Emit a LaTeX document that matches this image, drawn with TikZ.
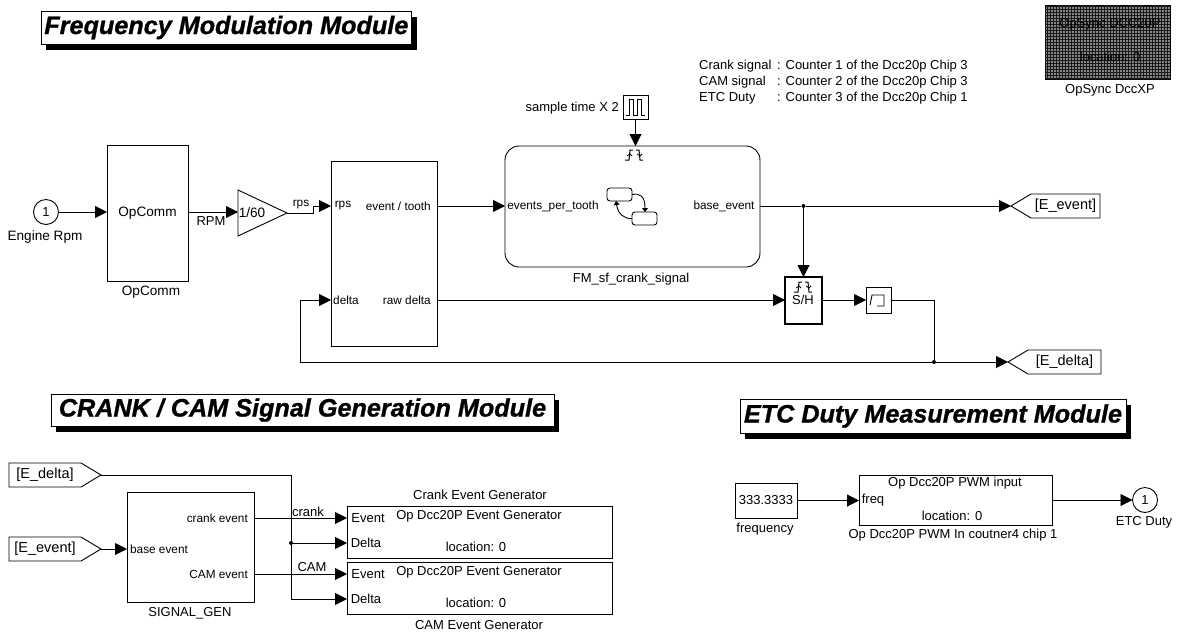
\documentclass[tikz,border=0pt]{standalone}
\usepackage{fontspec}
\setmainfont{Liberation Sans}[BoldItalicFeatures={FakeBold=1}]
\usetikzlibrary{arrows.meta, shapes, shadows, patterns}

\tikzset{
  txt/.style={inner sep=0pt, font=\fontsize{13}{15}\selectfont},
  txs/.style={inner sep=0pt, font=\fontsize{11.8}{14}\selectfont},
  txl/.style={inner sep=0pt, font=\fontsize{13.6}{15}\selectfont},
  box/.style={rectangle, draw, line width=0.9pt, txt, outer sep=0pt, anchor=north west},
  port/.style={circle, draw, line width=0.9pt, txt, minimum size=25pt, outer sep=0pt},
  tag/.style={signal, signal pointer angle=62, draw, line width=0.9pt, inner sep=0pt, outer sep=0pt,
    font=\fontsize{14.5}{16}\selectfont, minimum height=24pt},
  title/.style={rectangle, draw, line width=0.7pt, fill=white, outer sep=0pt, anchor=north west,
    font=\fontsize{25.2}{28}\selectfont\bfseries\itshape,
    drop shadow={shadow xshift=5pt, shadow yshift=-6pt, opacity=1, fill=black}},
  sig/.style={line width=0.9pt, -{Triangle[length=12pt,width=12pt]}},
  wire/.style={line width=0.9pt},
  dot/.style={circle, fill, inner sep=0pt, minimum size=4pt}
}
\newcommand{\trigsym}[2]{%
  \draw[line width=1pt] (#1-9,#2+5) -- (#1-5,#2+5) -- (#1-4,#2-5) -- (#1-1,#2-5);
  \draw[line width=1pt] (#1+2,#2-5) -- (#1+5,#2-5) -- (#1+6,#2+5) -- (#1+9,#2+5);
  \draw[line width=0.8pt] (#1-7,#2+1) -- (#1-4,#2-1) -- (#1-2,#2+1);
  \draw[line width=0.8pt] (#1+3,#2-1) -- (#1+6,#2+1) -- (#1+8,#2-1);
}

\begin{document}
\begin{tikzpicture}[x=1pt, y=-1pt]
\useasboundingbox (0,0) rectangle (1177,633);

% titles
\node[title, minimum width=370pt, minimum height=33pt] (TI1) at (41,11) {Frequency Modulation Module};
\node[title, minimum width=503pt, minimum height=32pt] (TI2) at (51,394) {CRANK / CAM Signal Generation Module};
\node[title, minimum width=386pt, minimum height=34pt] (TI3) at (740,399) {ETC Duty Measurement Module};

% notes
\node[txt, anchor=west] (N1) at (699,66) {Crank signal};
\node[txt, anchor=west] (N2) at (699,82) {CAM signal};
\node[txt, anchor=west] (N3) at (699,98) {ETC Duty};
\node[txt, anchor=west] (N4) at (777,66) {: Counter 1 of the Dcc20p Chip 3};
\node[txt, anchor=west] (N5) at (777,82) {: Counter 2 of the Dcc20p Chip 3};
\node[txt, anchor=west] (N6) at (777,98) {: Counter 3 of the Dcc20p Chip 1};

% sync block
\node[box, minimum width=125pt, minimum height=74pt, fill=black!48, postaction={pattern=grid, pattern color=black!90}] (SY1) at (1045,5) {};
\node[txt] (SY2) at (1110,24) {OpSync DCC20P};
\node[txt] (SY3) at (1110,57) {location: 0};
\node[txt] (SY4) at (1110,90) {OpSync DccXP};

% frequency modulation row
\node[port] (IN1) at (46,212) {1};
\node[txl] (IN2) at (45,237) {Engine Rpm};
\node[box, txl, minimum width=81pt, minimum height=136pt] (OP1) at (107,145) {OpComm};
\node[txl] (OP2) at (151,292) {OpComm};
\node[txt] (RP1) at (211,221) {RPM};
\node[isosceles triangle, isosceles triangle stretches, draw, line width=0.9pt, outer sep=0pt, inner sep=0pt, minimum width=46pt, minimum height=49pt, anchor=apex] (GA1) at (287,213) {};
\node[txl] (GA2) at (252,213) {1/60};
\node[txs] (RP2) at (301,205) {rps};
\coordinate (BD1) at (313,213);
\node[box, minimum width=106pt, minimum height=185pt] (BK1) at (331,161) {};
\node[txs] (LB1) at (343,206) {rps};
\node[txs, anchor=east] (LB2) at (431,206) {event / tooth};
\node[txs] (LB3) at (346,300) {delta};
\node[txs, anchor=east] (LB4) at (431,300) {raw delta};

% chart
\node[box, rounded corners=14pt, minimum width=255pt, minimum height=121pt] (CH1) at (505,146) {};
\node[txs] (CH2) at (553,206) {events\_per\_tooth};
\node[txs] (CH3) at (724,206) {base\_event};
\node[txt] (CH4) at (631,279) {FM\_sf\_crank\_signal};
\trigsym{634}{155}
\node[box, rounded corners=3pt, minimum width=25pt, minimum height=13pt] (MS1) at (607,188) {};
\node[box, rounded corners=3pt, minimum width=25pt, minimum height=13pt] (MS2) at (632,212) {};
\draw[line width=0.9pt, -{Triangle[length=4pt,width=6pt]}] (MS1.east) .. controls (640,193) and (645,196) .. (645,212);
\draw[line width=0.9pt, -{Triangle[length=4pt,width=6pt]}] (MS2.west) .. controls (624,219) and (618,214) .. (616,201);

% pulse
\node[box, minimum width=25pt, minimum height=24pt] (PU1) at (623,95) {};
\node[txt, anchor=east] (PU2) at (619,108) {sample time X 2};
\draw[line width=0.9pt] (626,115) -- (629,115) -- (629,99) -- (633,99) -- (633,115) -- (637,115) -- (637,99) -- (641,99) -- (641,115) -- (645,115);

% sample and hold
\node[box, line width=1.8pt, minimum width=37pt, minimum height=47pt] (SH1) at (785,277) {};
\trigsym{803}{287}
\node[txt] (SH2) at (803,300) {S/H};
\node[box, minimum width=25pt, minimum height=26pt] (ME1) at (866,287) {};
\draw[line width=0.9pt] (870,305) -- (872,295) -- (884,295) -- (884,306) -- (877,306);

% goto tags
\node[tag, signal to=west, anchor=west, minimum width=89pt] (TG1) at (1011,206) {[E\_event]\hspace{14pt}};
\node[tag, signal to=west, anchor=west, minimum width=93pt] (TG2) at (1008,362) {[E\_delta]\hspace{14pt}};

\node[dot] (JN1) at (803.5,206) {};
\node[dot] (JN2) at (934,362) {};
\coordinate (BD2) at (300,362);

\draw[sig] (IN1) -- (OP1.west |- IN1);
\draw[sig] (OP1.east |- IN1) -- (GA1.lower side |- IN1);
\draw[sig] (GA1.apex) -- (BD1) |- (BK1.west |- LB1);
\draw[sig] (BK1.east |- LB2) -- (CH1.west |- CH2);
\draw[wire] (CH1.east |- CH3) -- (JN1);
\draw[sig] (JN1) -- (TG1.west);
\draw[sig] (JN1) -- (SH1.north -| JN1);
\draw[sig] (PU1.south) -- (CH1.north -| PU1);
\draw[sig] (BK1.east |- LB4) -- (SH1.west |- SH2);
\draw[sig] (SH1.east |- SH2) -- (ME1.west);
\draw[wire] (ME1.east) -| (JN2);
\draw[sig] (JN2) -- (TG2.west);
\draw[sig] (JN2) -- (BD2) |- (BK1.west |- LB3);

% signal generation
\node[tag, signal to=east, anchor=east, minimum width=92pt] (FR1) at (101,475) {[E\_delta]\hspace{6pt}};
\node[tag, signal to=east, anchor=east, minimum width=92pt] (FR2) at (101,549) {[E\_event]\hspace{6pt}};
\node[box, minimum width=127pt, minimum height=110pt] (SG1) at (127,492) {};
\node[txt] (SG2) at (190,613) {SIGNAL\_GEN};
\node[txs] (SG3) at (159,549) {base event};
\node[txs, anchor=east] (SG4) at (248,518) {crank event};
\node[txs, anchor=east] (SG5) at (248,574) {CAM event};
\node[txt] (CR1) at (308,512) {crank};
\node[txt] (CA1) at (312,567) {CAM};

\node[box, minimum width=265pt, minimum height=52pt] (EG1) at (347,506) {};
\node[txt] (EG2) at (480,495) {Crank Event Generator};
\node[txt] (EG3) at (479,516) {Op Dcc20P Event Generator};
\node[txt] (EG4) at (476,547) {location: 0};
\node[txt] (EG5) at (368,518) {Event};
\node[txt] (EG6) at (366,543) {Delta};
\node[box, minimum width=265pt, minimum height=52pt] (EH1) at (347,562) {};
\node[txt] (EH2) at (479,625) {CAM Event Generator};
\node[txt] (EH3) at (479,572) {Op Dcc20P Event Generator};
\node[txt] (EH4) at (476,603) {location: 0};
\node[txt] (EH5) at (368,574) {Event};
\node[txt] (EH6) at (366,599) {Delta};

\node[dot] (JN3) at (291,543) {};
\draw[wire] (FR1.east) -| (JN3);
\draw[sig] (JN3) -- (EG1.west |- EG6);
\draw[sig] (JN3) |- (EH1.west |- EH6);
\draw[sig] (FR2.east) -- (SG1.west |- SG3);
\draw[sig] (SG1.east |- SG4) -- (EG1.west |- EG5);
\draw[sig] (SG1.east |- SG5) -- (EH1.west |- EH5);

% duty measurement
\node[box, minimum width=62pt, minimum height=35pt] (FQ1) at (735,483) {333.3333};
\node[txt] (FQ2) at (765,529) {frequency};
\node[box, minimum width=193pt, minimum height=50pt] (PW1) at (859,475) {};
\node[txt] (PW2) at (955,483) {Op Dcc20P PWM input};
\node[txt] (PW3) at (873,500) {freq};
\node[txt] (PW4) at (952,516) {location: 0};
\node[txt] (PW5) at (953,535) {Op Dcc20P PWM In coutner4 chip 1};
\node[port] (OU1) at (1145,500) {1};
\node[txt] (OU2) at (1144,522) {ETC Duty};
\draw[sig] (FQ1.east) -- (PW1.west |- FQ1);
\draw[sig] (PW1.east |- OU1) -- (OU1);
\end{tikzpicture}
\end{document}
